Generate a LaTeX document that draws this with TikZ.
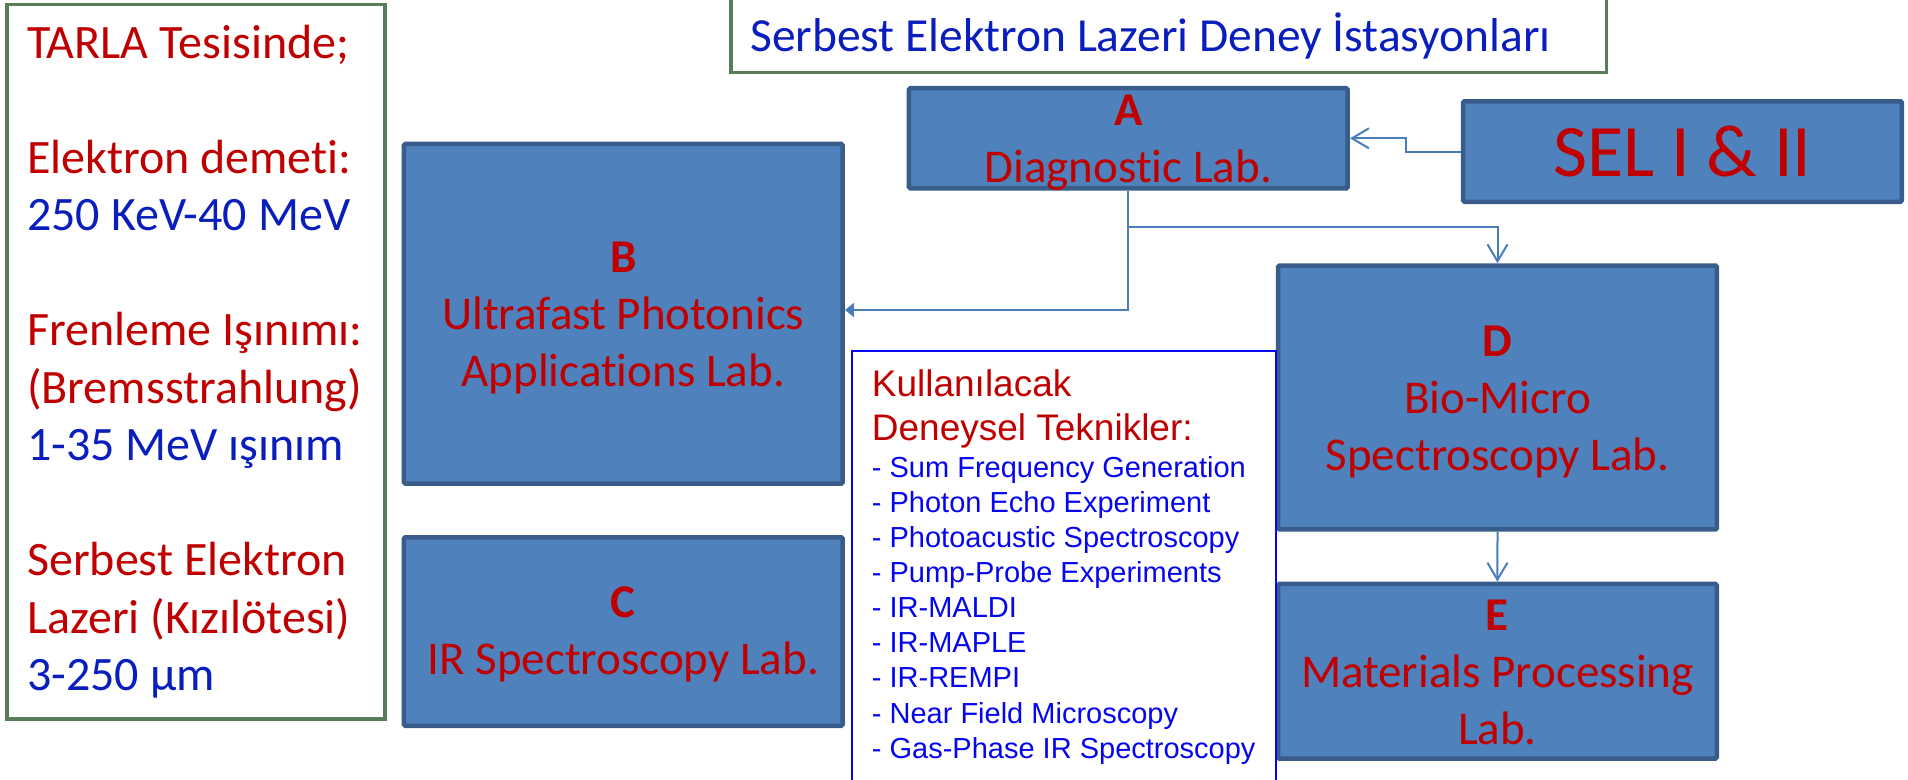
\documentclass[tikz,border=0pt]{standalone}
\usepackage{fontspec}
\setmainfont{Carlito}[Ligatures=TeX,RawFeature={-liga;-clig;-dlig;-calt;-rlig;-ccmp}]
\newfontfamily\arialfont{Liberation Sans}
\usetikzlibrary{arrows.meta}

\definecolor{labfill}{HTML}{4F81BD}
\definecolor{labedge}{HTML}{385D8A}
\definecolor{labred}{HTML}{C00000}
\definecolor{deepblue}{HTML}{0A1EBE}
\definecolor{listblue}{HTML}{0505F0}
\definecolor{framegreen}{RGB}{88,125,88}
\definecolor{wireblue}{HTML}{4A7EBB}

\tikzset{
  labbox/.style={draw=labedge, fill=labfill, line width=4.5pt, rounded corners=1.5pt,
    inner sep=0pt, minimum width=438.8pt},
  labtext/.style={text=labred, align=center, inner sep=0pt,
    font=\fontsize{47}{57}\selectfont},
  framebox/.style={draw=framegreen, line width=3.5pt, inner sep=0pt},
  infoline/.style={anchor=base west, inner sep=0pt, font=\fontsize{48}{57}\selectfont},
  headline/.style={anchor=base west, inner sep=0pt, text=labred,
    font=\arialfont\fontsize{37}{43}\selectfont},
  itemline/.style={anchor=base west, inner sep=0pt, text=listblue,
    font=\arialfont\fontsize{29}{35}\selectfont},
  wire/.style={draw=wireblue, line width=2pt},
  openhead/.style={-{Straight Barb[length=17pt,width=20pt]}},
  solidhead/.style={-{Triangle[length=9pt,width=14pt]}}
}

\begin{document}
\begin{tikzpicture}[x=1pt,y=-1pt]
\useasboundingbox (0,0) rectangle (1908,779);
\clip (0,0) rectangle (1908,779);

% facility summary panel
\node[framebox, minimum width=378.2pt, minimum height=714.5pt] (info) at (195.85,361.7) {};
\foreach \row/\clr/\txt in {0/labred/{TARLA Tesisinde;}, 2/labred/{Elektron demeti:},
    3/deepblue/{250 KeV-40 MeV}, 5/labred/{Frenleme Işınımı:}, 6/labred/{(Bremsstrahlung)},
    7/deepblue/{1-35 MeV ışınım}, 9/labred/{Serbest Elektron},
    10/labred/{Lazeri (Kızılötesi)}, 11/deepblue/{3-250 µm}}
  \node[infoline, text=\clr] (info\row) at (27,{58.3+57.5*\row}) {\txt};

% heading
\node[framebox, anchor=south west, minimum width=875.5pt, minimum height=80.5pt] (title) at (729,74) {};
\node[anchor=base west, inner sep=0pt, text=deepblue, font=\fontsize{47.5}{57}\selectfont]
  (titletext) at (750,51.7) {Serbest Elektron Lazeri Deney İstasyonları};

% laboratories
\node[labbox, minimum height=100.2pt] (A) at (1128.3,138.3) {};
\node[labbox, minimum height=339.8pt] (B) at (623.3,313.8) {};
\node[labbox, minimum height=188.5pt] (C) at (623.3,631.5) {};
\node[labbox, minimum height=263.9pt] (D) at (1497.5,397.5) {};
\node[labbox, minimum height=174.8pt] (E) at (1497.4,671.3) {};
\node[labbox, minimum height=100.5pt, text=labred, font=\fontsize{74}{80}\selectfont]
  (SEL) at (1682.5,151.5) {SEL I \& II};

\node[labtext] (Atext) at ([yshift=-4.5pt]A.center) {\strut\textbf{A}\\\strut Diagnostic Lab.};
\node[labtext] (Btext) at ([yshift=-4.5pt]B.center) {\strut\textbf{B}\\\strut Ultrafast Photonics\\\strut Applications Lab.};
\node[labtext] (Ctext) at ([yshift=-3pt]C.center) {\strut\textbf{C}\\\strut IR Spectroscopy Lab.};
\node[labtext] (Dtext) at ([yshift=-4.5pt]D.center) {\strut\textbf{D}\\\strut Bio-Micro\\\strut Spectroscopy Lab.};
\node[labtext] (Etext) at ([yshift=-4.5pt]E.center) {\strut\textbf{E}\\\strut Materials Processing\\\strut Lab.};

% beam routing
\draw[wire, openhead] (SEL.west) -- ++(-55.3,0) |- (A.east);
\draw[wire, openhead] (A.south) -- ++(0,36.3) -| (D.north);
\draw[wire, solidhead] (A.south) |- ([yshift=3.8pt]B.east);
\draw[wire, openhead] (D.south) -- (E.north);

% techniques list
\node[draw=listblue, line width=2pt, inner sep=0pt, minimum width=424pt, minimum height=448pt]
  (techniques) at (1064,575) {};
\node[headline] (head1) at (871.7,396.7) {Kullanılacak};
\node[headline] (head2) at (871.7,440) {Deneysel Teknikler:};
\foreach \txt [count=\k from 0] in {Sum Frequency Generation, Photon Echo Experiment,
    Photoacustic Spectroscopy, Pump-Probe Experiments, IR-MALDI, IR-MAPLE, IR-REMPI,
    Near Field Microscopy, Gas-Phase IR Spectroscopy}
  \node[itemline] (item\k) at (871.7,{477.3+35.1*\k}) {- \txt};
\end{tikzpicture}
\end{document}
